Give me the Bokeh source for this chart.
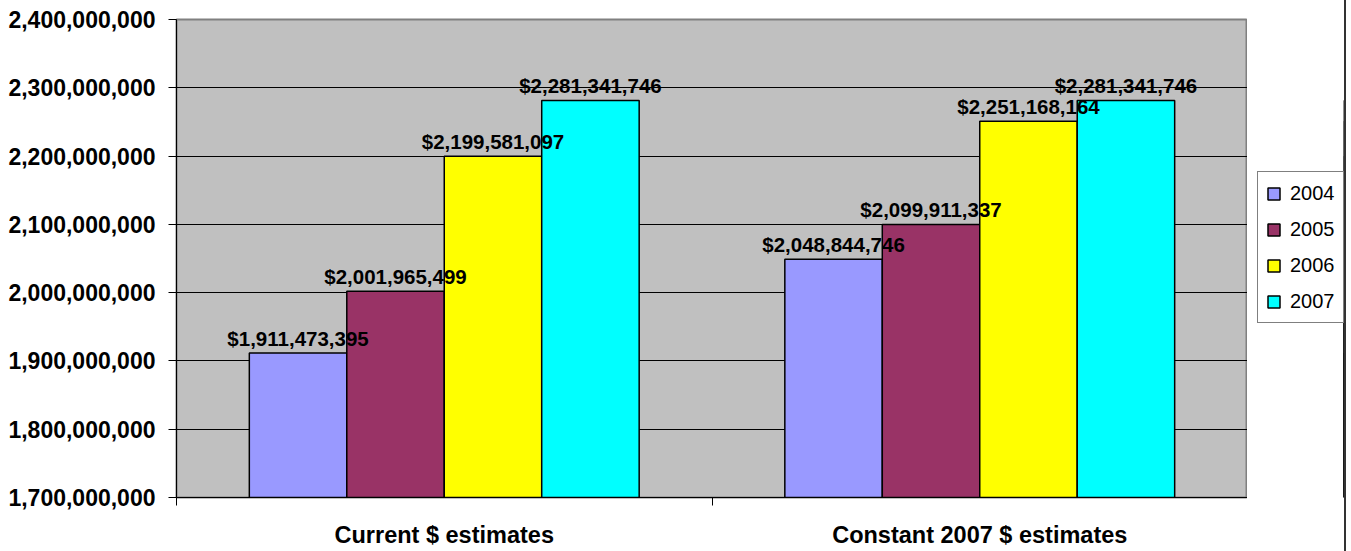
from bokeh.plotting import figure
from bokeh.models import (ColumnDataSource, FixedTicker, NumeralTickFormatter, Range1d,
                          Legend, LegendItem)
from bokeh.layouts import row
from bokeh.embed import file_html
from bokeh.resources import INLINE
from bokeh.core.properties import value

categories = ["Current $ estimates", "Constant 2007 $ estimates"]
years = ["2004", "2005", "2006", "2007"]
v2004 = [1911473395, 2048844746]
v2005 = [2001965499, 2099911337]
v2006 = [2199581097, 2251168164]
v2007 = [2281341746, 2281341746]
colors = ["#9999FF", "#993366", "#FFFF00", "#00FFFF"]
y_ticks = [1700000000, 1800000000, 1900000000, 2000000000, 2100000000,
           2200000000, 2300000000, 2400000000]

series = [v2004, v2005, v2006, v2007]
FONT = "Liberation Sans"
H = 551

p = figure(width=1247, height=H, output_backend="svg", toolbar_location=None,
           x_range=Range1d(0, len(categories)), y_range=Range1d(y_ticks[0], y_ticks[-1]),
           min_border_left=176, min_border_right=0, min_border_top=19, min_border_bottom=54)
p.background_fill_color = "#C0C0C0"
p.border_fill_color = "white"
p.outline_line_color = "#808080"
p.outline_line_width = 2

bar_w = 0.182
offsets = [-1.5 * bar_w, -0.5 * bar_w, 0.5 * bar_w, 1.5 * bar_w]
sources = []
for k, (yr, vals, col) in enumerate(zip(years, series, colors)):
    xs = [i + 0.5 + offsets[k] for i in range(len(categories))]
    src = ColumnDataSource(dict(x=xs, top=vals,
                                lab=["$" + f"{v:,}" for v in vals]))
    sources.append(src)
    p.vbar(x="x", top="top", bottom=y_ticks[0], width=bar_w, source=src,
           fill_color=col, line_color="black", line_width=1.5)

for src in sources:
    p.text(x="x", y="top", text="lab", source=src, text_align="center",
           text_baseline="alphabetic", y_offset=-15, text_font=value(FONT),
           text_font_size="20.5px", text_font_style="bold", text_color="black")

# y axis
p.yaxis.ticker = FixedTicker(ticks=y_ticks)
p.yaxis.formatter = NumeralTickFormatter(format="0,0")
p.yaxis.major_label_text_font = FONT
p.yaxis.major_label_text_font_size = "23px"
p.yaxis.major_label_text_font_style = "bold"
p.yaxis.major_label_text_color = "black"
p.yaxis.major_tick_out = 8
p.yaxis.major_tick_in = 0
p.yaxis.minor_tick_line_color = None
p.yaxis.axis_line_color = "black"
p.yaxis.major_tick_line_color = "black"
p.yaxis.major_label_standoff = 13

# x axis: category names at centers, boundary ticks as minor ticks
p.xaxis.ticker = FixedTicker(ticks=[i + 0.5 for i in range(len(categories))],
                             minor_ticks=list(range(len(categories) + 1)))
p.xaxis.major_label_overrides = {i + 0.5: c for i, c in enumerate(categories)}
p.xaxis.major_tick_line_color = None
p.xaxis.major_tick_out = 0
p.xaxis.major_tick_in = 0
p.xaxis.minor_tick_out = 8
p.xaxis.minor_tick_in = 0
p.xaxis.minor_tick_line_color = "black"
p.xaxis.axis_line_color = "black"
p.xaxis.major_label_text_font = FONT
p.xaxis.major_label_text_font_size = "23.5px"
p.xaxis.major_label_text_font_style = "bold"
p.xaxis.major_label_text_color = "black"
p.xaxis.major_label_standoff = 16

p.xgrid.visible = False
p.ygrid.ticker = FixedTicker(ticks=y_ticks[1:-1])
p.ygrid.grid_line_color = "black"
p.ygrid.grid_line_width = 1

# legend panel: a small figure to the right of the plot area; its legend
# proxies reuse the same bar sources, which fall outside this panel's view
b = figure(width=97, height=H, output_backend="svg", toolbar_location=None,
           x_axis_type=None, y_axis_type=None, min_border=0,
           x_range=Range1d(-3, -2), y_range=Range1d(y_ticks[0], y_ticks[-1]))
b.outline_line_color = None
b.background_fill_color = "white"
b.border_fill_color = "white"
items = []
for yr, col, src in zip(years, colors, sources):
    r = b.vbar(x="x", top="top", bottom=y_ticks[0], width=bar_w, source=src,
               fill_color=col, line_color="black", line_width=1.5)
    items.append(LegendItem(label=yr, renderers=[r]))

legend = Legend(items=items, location=(10, 497 - 323))
legend.label_text_font = FONT
legend.label_text_font_size = "20px"
legend.label_text_color = "black"
legend.glyph_width = 15
legend.glyph_height = 15
legend.label_height = 26
legend.label_standoff = 9
legend.spacing = 10
legend.padding = 8
legend.margin = 0
legend.border_line_color = "black"
legend.border_line_width = 1
legend.background_fill_color = "white"
legend.background_fill_alpha = 1
b.add_layout(legend)

layout = row(p, b, styles={"border-right": "2px solid #333333"})

open("out.html", "w").write(file_html(layout, INLINE))
